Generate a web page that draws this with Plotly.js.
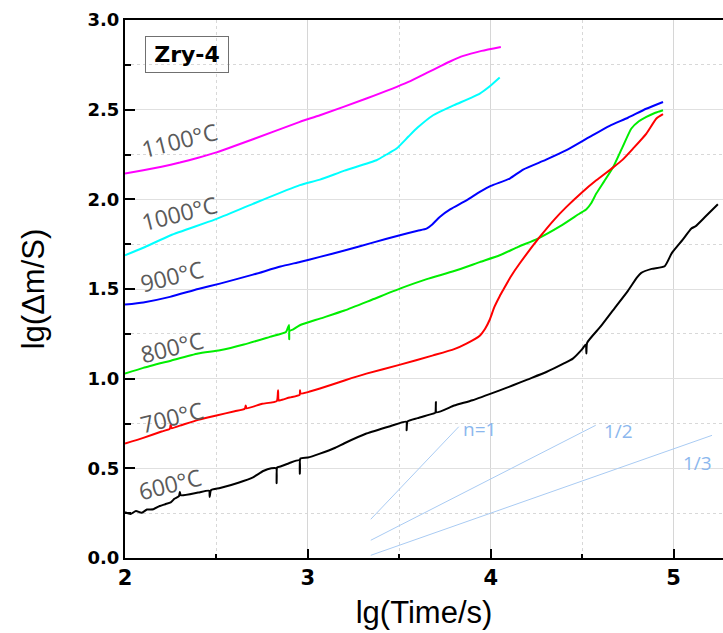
<!DOCTYPE html>
<html>
<head>
<meta charset="utf-8">
<script src="https://cdn.plot.ly/plotly-3.0.1.min.js"></script>
<style>html,body{margin:0;padding:0;background:#fff;}#chart{width:723px;height:633px;}</style>
</head>
<body>
<div id="chart"></div>
<script>
// ---- Data (x = lg(Time/s), y = lg(Δm/S)) ----
const x1100 = [2.00,2.10,2.20,2.30,2.40,2.50,2.70,2.956,3.066,3.32,3.55,3.65,3.72,3.78,3.85,3.95,4.055];
const y1100 = [2.144,2.162,2.182,2.205,2.232,2.262,2.335,2.432,2.469,2.562,2.655,2.705,2.74,2.77,2.80,2.828,2.85];

const x1000 = [2.00,2.10,2.25,2.49,2.70,2.956,3.066,3.20,3.375,3.43,3.485,3.55,3.60,3.685,3.80,3.94,4.00,4.049];
const y1000 = [1.688,1.73,1.80,1.887,1.975,2.079,2.110,2.16,2.218,2.25,2.283,2.35,2.40,2.469,2.525,2.590,2.635,2.679];

const x900 = [2.00,2.10,2.246,2.40,2.519,2.70,2.85,2.956,3.066,3.20,3.35,3.503,3.60,3.649,3.68,3.721,3.78,3.867,3.94,4.00,4.104,4.177,4.30,4.414,4.541,4.65,4.75,4.85,4.942];
const y900 = [1.413,1.425,1.456,1.50,1.530,1.58,1.625,1.651,1.679,1.715,1.757,1.800,1.825,1.837,1.86,1.902,1.945,1.994,2.041,2.075,2.116,2.166,2.22,2.274,2.348,2.41,2.455,2.505,2.543];

const x800 = [2.00,2.10,2.246,2.40,2.519,2.65,2.792,2.88,2.897,2.898,2.899,2.92,2.956,3.066,3.20,3.35,3.503,3.65,3.80,3.94,4.049,4.15,4.258,4.38,4.486,4.523,4.55,4.577,4.62,4.668,4.72,4.769,4.81,4.851,4.90,4.942];
const y800 = [1.028,1.06,1.099,1.14,1.158,1.19,1.233,1.26,1.30,1.22,1.265,1.275,1.298,1.335,1.38,1.44,1.502,1.555,1.60,1.65,1.688,1.735,1.781,1.85,1.921,1.945,1.98,2.032,2.10,2.177,2.29,2.395,2.435,2.460,2.483,2.497];

const x700 = [2.00,2.10,2.20,2.245,2.25,2.255,2.30,2.40,2.50,2.60,2.655,2.66,2.665,2.75,2.83,2.837,2.84,2.85,2.90,2.955,2.957,2.96,3.00,3.066,3.20,3.32,3.50,3.685,3.80,3.867,3.94,3.97,3.995,4.02,4.049,4.067,4.11,4.158,4.268,4.35,4.414,4.50,4.577,4.668,4.72,4.778,4.851,4.906,4.942];
const y700 = [0.638,0.67,0.705,0.72,0.745,0.724,0.738,0.77,0.795,0.818,0.832,0.85,0.835,0.86,0.875,0.935,0.878,0.88,0.895,0.91,0.935,0.917,0.925,0.945,0.99,1.028,1.077,1.130,1.165,1.196,1.24,1.28,1.33,1.40,1.46,1.493,1.57,1.642,1.790,1.89,1.958,2.04,2.106,2.177,2.22,2.283,2.367,2.451,2.475];

const x600 = [2.00,2.03,2.06,2.09,2.12,2.155,2.19,2.22,2.25,2.27,2.295,2.30,2.305,2.40,2.46,2.463,2.47,2.52,2.62,2.70,2.756,2.80,2.827,2.829,2.832,2.85,2.90,2.954,2.956,2.959,3.00,3.066,3.15,3.20,3.32,3.45,3.538,3.54,3.545,3.60,3.685,3.697,3.70,3.703,3.80,3.90,4.049,4.122,4.20,4.304,4.40,4.449,4.50,4.52,4.523,4.527,4.60,4.668,4.75,4.80,4.823,4.88,4.951,4.99,5.05,5.097,5.12,5.17,5.242];
const y600 = [0.255,0.245,0.262,0.252,0.27,0.272,0.29,0.30,0.31,0.33,0.345,0.368,0.35,0.365,0.375,0.34,0.378,0.39,0.42,0.45,0.485,0.50,0.50,0.417,0.505,0.51,0.53,0.545,0.47,0.555,0.56,0.582,0.615,0.64,0.694,0.735,0.76,0.712,0.762,0.78,0.805,0.81,0.87,0.812,0.85,0.88,0.935,0.963,0.995,1.037,1.085,1.112,1.165,1.19,1.14,1.20,1.29,1.381,1.49,1.565,1.590,1.612,1.627,1.70,1.775,1.837,1.85,1.90,1.973];

// Guide slopes (n = 1, 1/2, 1/3)
const guideN1x = [3.344,3.825];   const guideN1y = [0.216,0.732];
const guideN2x = [3.344,4.574];   const guideN2y = [0.099,0.740];
const guideN3x = [3.344,5.210];   const guideN3y = [0.015,0.684];
const guideLabels = ["n=1","1/2","1/3"];

const seriesNames = ["1100°C","1000°C","900°C","800°C","700°C","600°C"];
const seriesColors = ["#ff00ff","#00ffff","#0000ff","#00ee00","#ff0000","#000000"];
const tempLabelX = [2.30,2.30,2.257,2.255,2.257,2.246];
const tempLabelY = [2.33,1.922,1.571,1.177,0.785,0.415];

const xTicks = [2,3,4,5];
const yTicks = [0,0.5,1.0,1.5,2.0,2.5,3.0];

const xs = [x1100,x1000,x900,x800,x700,x600];
const ys = [y1100,y1000,y900,y800,y700,y600];

const traces = [];
xs.forEach((xv,i)=>{
  traces.push({x:xv,y:ys[i],mode:'lines',name:seriesNames[i],
    line:{color:seriesColors[i],width:2,shape:'spline',smoothing:0.5},hoverinfo:'skip'});
});
const guideColor = '#a9cbf3';
[[guideN1x,guideN1y],[guideN2x,guideN2y],[guideN3x,guideN3y]].forEach(g=>{
  traces.push({x:g[0],y:g[1],mode:'lines',line:{color:guideColor,width:1},hoverinfo:'skip'});
});

const annotations = [];
seriesNames.forEach((n,i)=>{
  annotations.push({x:tempLabelX[i],y:tempLabelY[i],xref:'x',yref:'y',text:n,showarrow:false,
    xanchor:'center',yanchor:'middle',
    textangle:-14,font:{family:'Open Sans',size:23,color:'#5a5a5a'}});
});
const guideLabelPos = [[3.94,0.72],[4.70,0.71],[5.13,0.53]];
guideLabels.forEach((t,i)=>{
  annotations.push({x:guideLabelPos[i][0],y:guideLabelPos[i][1],xref:'x',yref:'y',text:t,showarrow:false,
    xanchor:'center',yanchor:'middle',
    font:{family:'Open Sans',size:19,color:'#8bb7ee'}});
});
annotations.push({x:0.103,y:0.935,xref:'paper',yref:'paper',text:'Zry-4',showarrow:false,
  xanchor:'center',yanchor:'middle',
  font:{family:'DejaVu Sans',size:22,weight:'bold',color:'#000'},
  bordercolor:'#707070',borderwidth:1,borderpad:3,width:76,height:29,bgcolor:'rgba(255,255,255,0)'});

const layout = {
  width:723,height:633,
  margin:{l:125,r:0,t:20,b:75},
  paper_bgcolor:'#fff',plot_bgcolor:'#fff',
  showlegend:false,
  xaxis:{range:[2,5.27],tickvals:xTicks,ticktext:xTicks.map(String),
    ticks:'inside',ticklen:9,tickwidth:2,tickcolor:'#000',
    showline:true,linewidth:2,linecolor:'#000',mirror:true,zeroline:false,
    showgrid:true,gridcolor:'#d6d6d6',gridwidth:1,
    minor:{dtick:0.5,tick0:2,ticks:'inside',ticklen:4,tickwidth:2,tickcolor:'#000',showgrid:true,gridcolor:'#d8d8d8',griddash:'dot',gridwidth:1},
    tickfont:{family:'DejaVu Sans',size:21,weight:'bold',color:'#000'},
    title:{text:'lg(Time/s)',font:{family:'Liberation Sans',size:31,color:'#000'},standoff:12}},
  yaxis:{range:[0,3],tickvals:yTicks,ticktext:yTicks.map(v=>v.toFixed(1)),
    ticks:'inside',ticklen:10,tickwidth:2,tickcolor:'#000',
    showline:true,linewidth:2,linecolor:'#000',mirror:false,zeroline:false,
    showgrid:true,gridcolor:'#e0e0e0',gridwidth:1,
    minor:{dtick:0.25,tick0:0,ticks:'inside',ticklen:6,tickwidth:2,tickcolor:'#000',showgrid:true,gridcolor:'#d8d8d8',griddash:'dot',gridwidth:1},
    tickfont:{family:'DejaVu Sans',size:18,weight:'bold',color:'#000'},
    title:{text:'lg(Δm/S)',font:{family:'Liberation Sans',size:31,color:'#000'},standoff:34}},
  annotations:annotations
};

Plotly.newPlot('chart',traces,layout,{displayModeBar:false,staticPlot:true});
</script>
</body>
</html>
